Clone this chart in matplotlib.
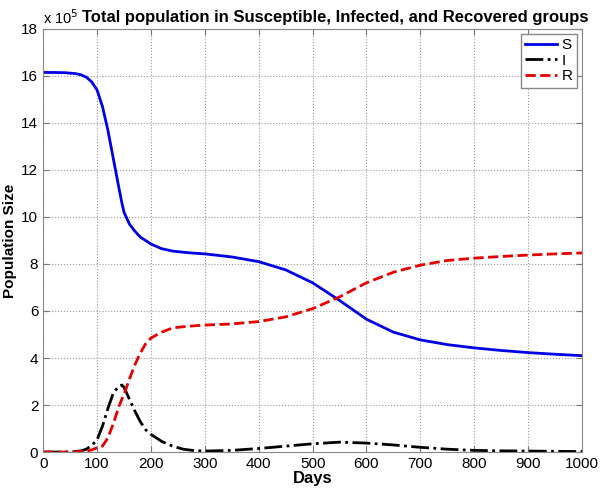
import numpy as np
import matplotlib
matplotlib.use('Agg')
import matplotlib.pyplot as plt

plt.rcParams['font.family'] = ['Liberation Sans', 'DejaVu Sans']

# SIR model output, population in units of 1e5
days = [0, 20, 40, 60, 70, 80, 90, 100, 110, 120, 130, 140, 146, 150, 160, 170, 180, 190,
        200, 220, 240, 260, 280, 300, 350, 400, 450, 500, 550, 600, 650, 700, 750, 800,
        850, 900, 950, 1000]
S = [16.15, 16.15, 16.14, 16.10, 16.05, 15.95, 15.75, 15.4, 14.7, 13.7, 12.5, 11.3, 10.6, 10.2,
     9.7, 9.4, 9.15, 9.0, 8.85, 8.65, 8.55, 8.5, 8.46, 8.43, 8.3, 8.1, 7.75, 7.2, 6.45, 5.65,
     5.1, 4.77, 4.57, 4.43, 4.32, 4.23, 4.16, 4.1]
I = [0.0, 0.0, 0.0, 0.02, 0.05, 0.12, 0.28, 0.52, 1.1, 1.85, 2.5, 2.8, 2.85, 2.75,
     2.25, 1.75, 1.3, 0.95, 0.75, 0.45, 0.25, 0.12, 0.06, 0.04, 0.07, 0.15, 0.25, 0.35, 0.42, 0.38,
     0.3, 0.2, 0.12, 0.07, 0.05, 0.04, 0.03, 0.02]
R = [0.0, 0.0, 0.0, 0.01, 0.02, 0.04, 0.09, 0.18, 0.25, 0.6, 1.2, 1.9, 2.25, 2.45,
     3.1, 3.7, 4.2, 4.6, 4.85, 5.1, 5.28, 5.33, 5.37, 5.4, 5.45, 5.55, 5.75, 6.1, 6.6, 7.2,
     7.65, 7.95, 8.15, 8.25, 8.32, 8.38, 8.43, 8.47]

fig = plt.figure(figsize=(6, 4.91), dpi=100)
ax = fig.add_axes([0.072, 0.0794, 0.898, 0.8616])

ax.plot(days, S, color='#0000e6', lw=2, label='S')
ax.plot(days, I, color='black', lw=2, ls='-.', label='I')
ax.plot(days, R, color='#e60000', lw=2, ls='--', label='R')

ax.set_xlim(0, 1000)
ax.set_ylim(0, 18)
ax.set_xticks(np.arange(0, 1001, 100))
ax.set_yticks(np.arange(0, 19, 2))
ax.grid(True, ls=':', color='#999999', lw=0.8)
ax.tick_params(direction='in', top=True, right=True, labelsize=11, color='#777777', length=4)
for sp in ax.spines.values():
    sp.set_color('#888888')

ax.set_title('Total population in Susceptible, Infected, and Recovered groups',
             fontsize=12, fontweight='bold', pad=5, x=0.542)
ax.set_xlabel('Days', fontsize=12, fontweight='bold', labelpad=0)
ax.set_ylabel('Population Size', fontsize=11, fontweight='bold')
ax.yaxis.set_label_coords(-0.049, 0.5)
ax.text(0, 1.005, r'x 10$^5$', transform=ax.transAxes, fontsize=10.5, va='bottom', ha='left')

leg = ax.legend(loc='upper right', fontsize=11, handlelength=2.1, handletextpad=0.3,
                borderaxespad=0.3, borderpad=0.3, labelspacing=0.1, fancybox=False,
                framealpha=1)
leg.get_frame().set_edgecolor('#888888')

fig.savefig('out.png', dpi=100)
